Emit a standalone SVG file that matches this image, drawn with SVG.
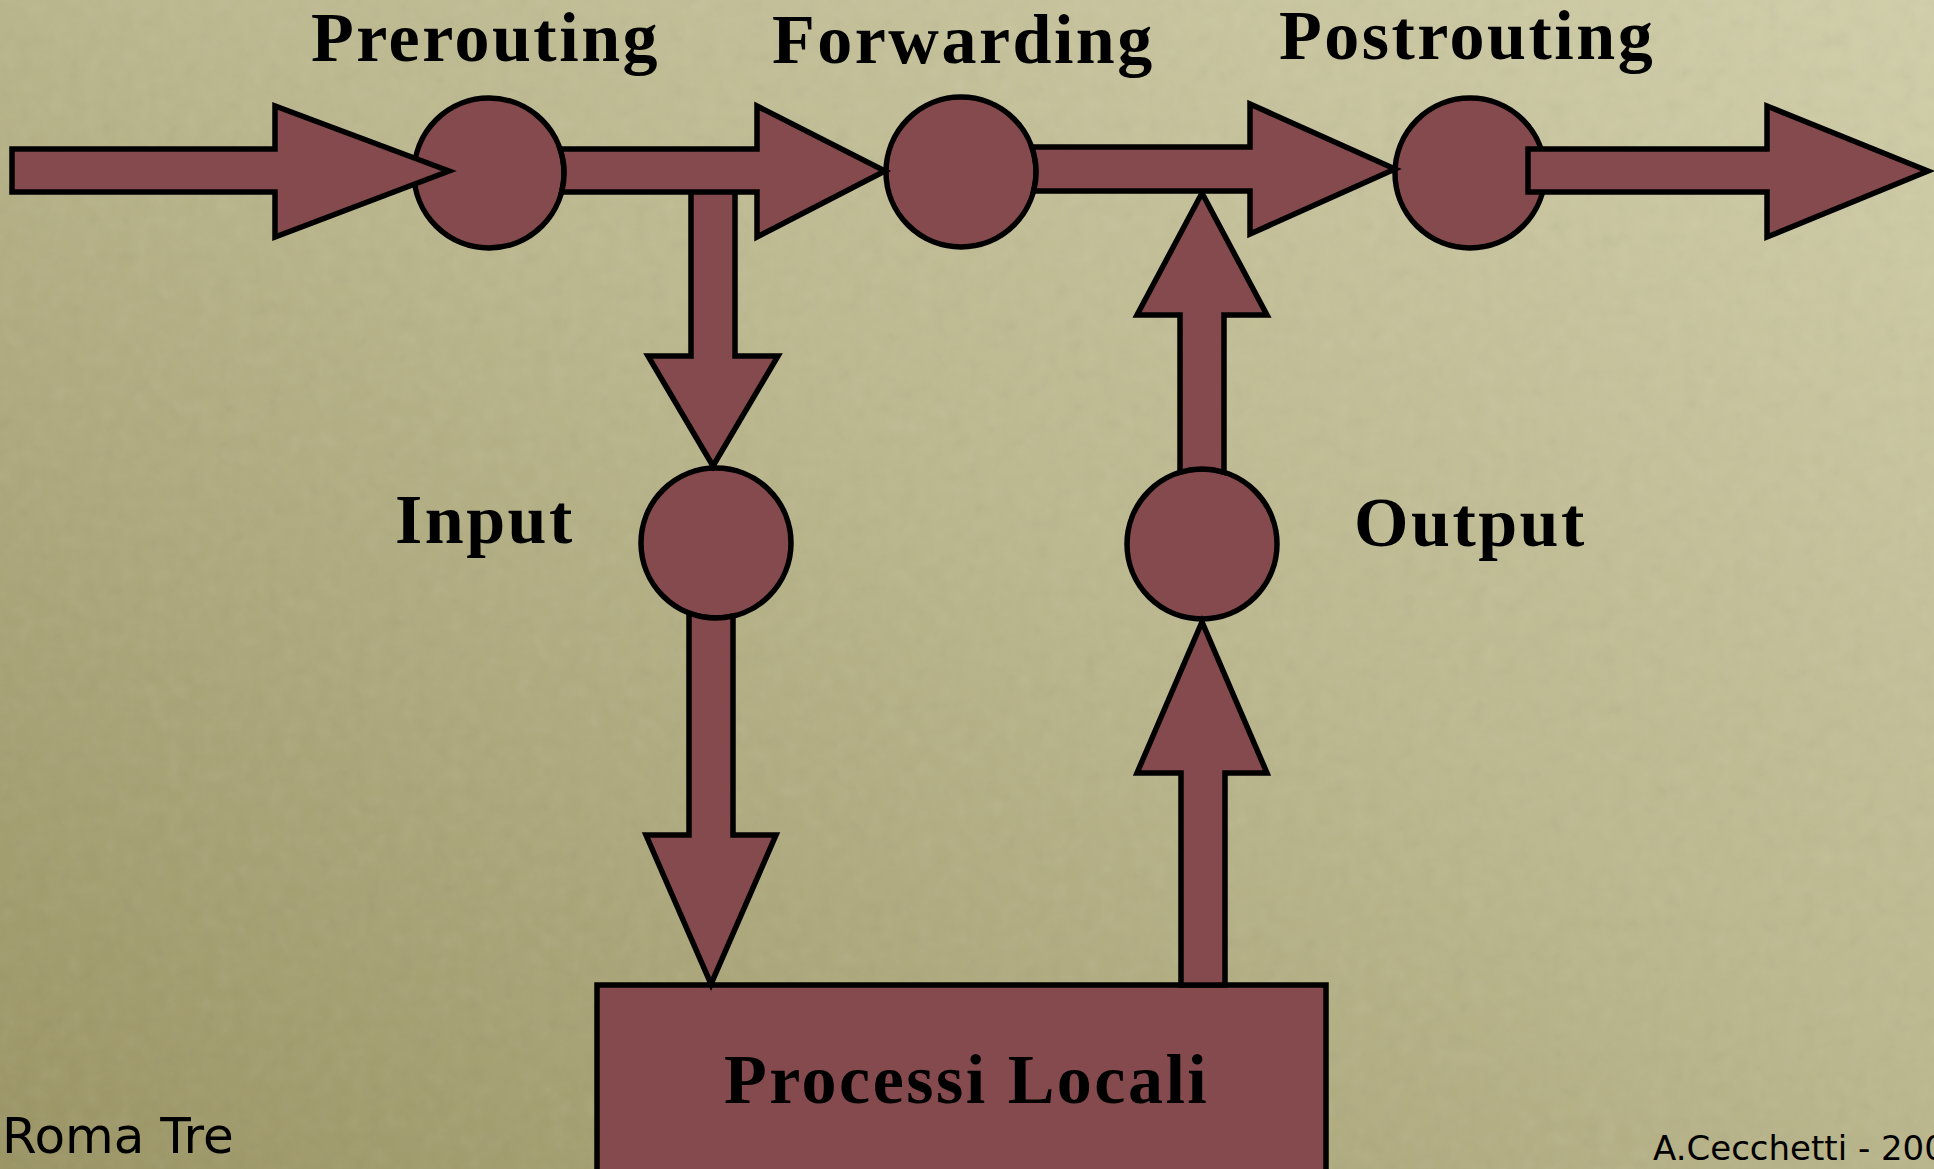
<svg xmlns="http://www.w3.org/2000/svg" width="1934" height="1169" viewBox="0 0 1934 1169">
  <defs>
    <linearGradient id="paper" x1="1" y1="0" x2="0" y2="1">
      <stop offset="0" stop-color="#d1cea9"/>
      <stop offset="0.45" stop-color="#bcb88e"/>
      <stop offset="1" stop-color="#9a9463"/>
    </linearGradient>
    <filter id="grain" x="0" y="0" width="100%" height="100%">
      <feTurbulence type="fractalNoise" baseFrequency="0.06" numOctaves="3" seed="7"/>
      <feColorMatrix type="saturate" values="0"/>
    </filter>
    <style>
      .shape { fill: #854a4d; stroke: #000; stroke-width: 5.5; stroke-linejoin: miter; stroke-miterlimit: 6; }
      .label { font-family: "Liberation Serif", "Times New Roman", serif; font-weight: bold; font-size: 70px; letter-spacing: 2.5px; fill: #000; }
      .foot { font-family: "DejaVu Sans", sans-serif; fill: #000; }
    </style>
  </defs>

  <!-- background -->
  <rect width="1934" height="1169" fill="url(#paper)"/>
  <rect width="1934" height="1169" filter="url(#grain)" opacity="0.1"/>

  <!-- nodes -->
  <g id="prerouting">
    <circle class="shape" cx="489" cy="173" r="75"/>
    <text class="label" x="311" y="61">Prerouting</text>
  </g>
  <g id="forwarding">
    <circle class="shape" cx="961" cy="172" r="75"/>
    <text class="label" x="772" y="63">Forwarding</text>
  </g>
  <g id="postrouting">
    <circle class="shape" cx="1470" cy="173" r="75"/>
    <text class="label" x="1279" y="59">Postrouting</text>
  </g>
  <g id="input">
    <circle class="shape" cx="716" cy="543" r="75"/>
    <text class="label" x="395" y="543">Input</text>
  </g>
  <g id="output">
    <circle class="shape" cx="1202" cy="544" r="75"/>
    <text class="label" x="1354" y="546">Output</text>
  </g>
  <g id="processi-locali">
    <rect class="shape" x="597" y="985" width="729" height="260"/>
    <text class="label" x="724" y="1103">Processi Locali</text>
  </g>

  <!-- connectors (block arrows) -->
  <g id="connectors">
    <!-- incoming packets -> Prerouting -->
    <path class="shape" d="M12,149 L275,149 L275,106 L449,171 L275,237 L275,192 L12,192 Z"/>
    <!-- Prerouting -> Input (branch) -->
    <path class="shape" d="M691,180 L735,180 L735,356 L778,356 L713,466 L648,356 L691,356 Z"/>
    <!-- Prerouting -> Forwarding -->
    <path class="shape" d="M560.1,149 L757,149 L757,106 L885,171 L757,237 L757,192 L561.6,192 A75,75 0 0 0 560.1,149 Z"/>
    <!-- Input -> Processi Locali -->
    <path class="shape" d="M733,616 L733,835 L776,835 L711,984 L646,835 L689,835 L689,613 A75,75 0 0 0 733,616 Z"/>
    <!-- Processi Locali -> Output -->
    <path class="shape" d="M1181,985 L1181,773 L1137,773 L1202,622 L1267,773 L1225,773 L1225,985 Z"/>
    <!-- Output -> Postrouting path -->
    <path class="shape" d="M1180,472.3 L1180,315 L1137,315 L1202,193 L1267,315 L1224,315 L1224,472.3 A75,75 0 0 0 1180,472.3 Z"/>
    <!-- Forwarding -> Postrouting -->
    <path class="shape" d="M1031.7,147 L1250,147 L1250,104 L1395,169 L1250,234 L1250,191 L1033.6,191 A75,75 0 0 0 1031.7,147 Z"/>
    <!-- Postrouting -> outgoing packets -->
    <path class="shape" d="M1528,149 L1767,149 L1767,106 L1928,171 L1767,237 L1767,192 L1528,192 Z"/>
  </g>

  <!-- footer -->
  <text class="foot" x="2" y="1153" font-size="50">Roma Tre</text>
  <text class="foot" x="1653" y="1160" font-size="34">A.Cecchetti - 200</text>
</svg>
